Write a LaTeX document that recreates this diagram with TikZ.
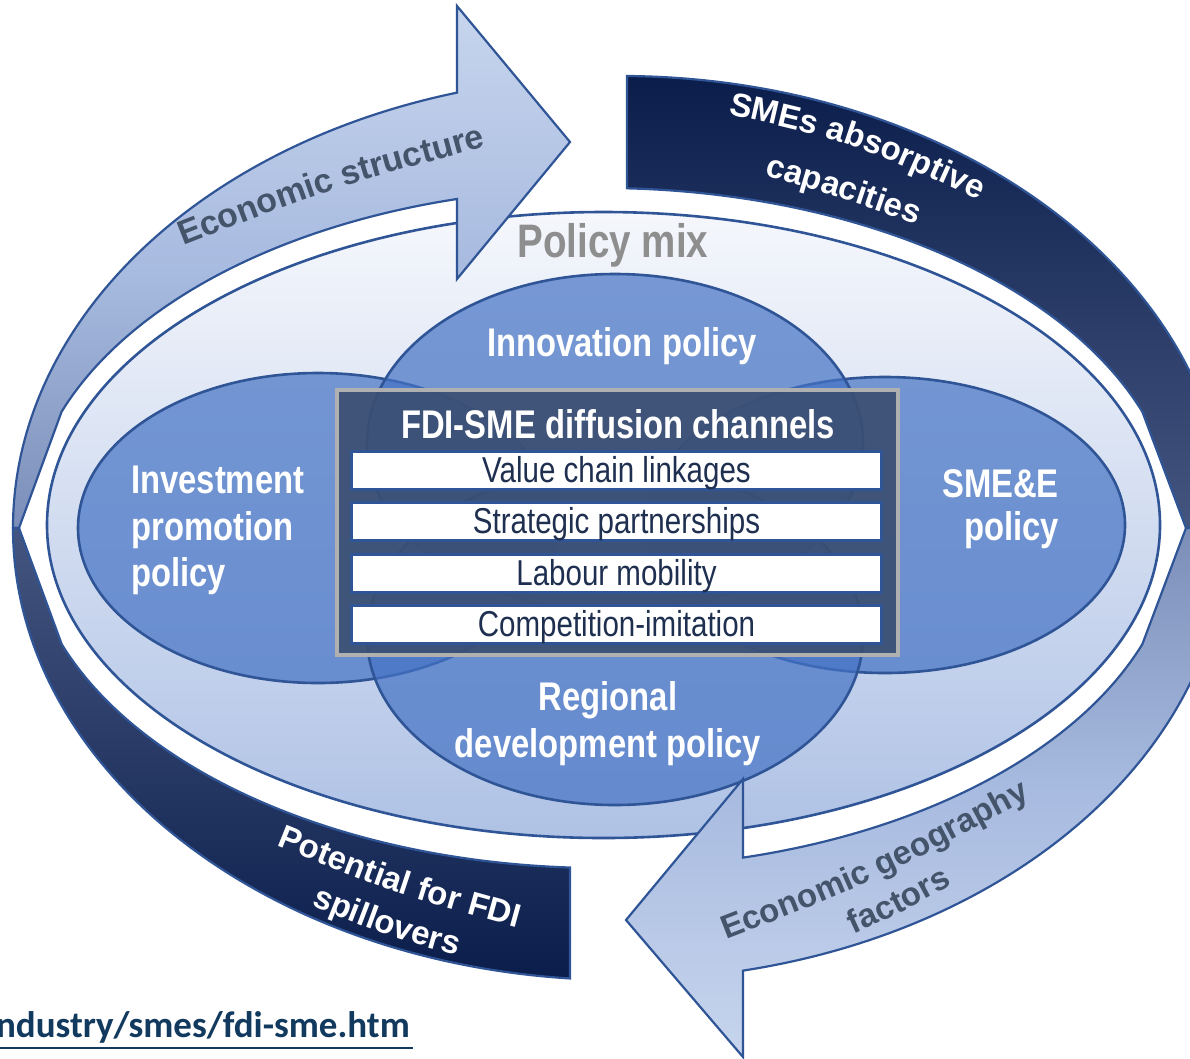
\documentclass[tikz,border=0pt]{standalone}
\usepackage{fontspec}
\setmainfont{Liberation Sans}
\newfontfamily\narrowfont[FakeStretch=0.82]{Liberation Sans}
\newfontfamily\urlfont{Carlito}
\usetikzlibrary{decorations.text}
\definecolor{bord}{HTML}{2F5597}
\definecolor{accent}{HTML}{4472C4}
\definecolor{slate}{HTML}{44546A}
\definecolor{boxfill}{HTML}{3B4E70}
\definecolor{boxedge}{HTML}{B0B0B0}
\definecolor{rowtext}{HTML}{1F2F50}
\definecolor{mixgray}{HTML}{8E8E8E}
\definecolor{urlcol}{HTML}{123A5E}
\definecolor{mixtop}{HTML}{F5F7FC}
\definecolor{mixbot}{HTML}{AFC2E5}
\definecolor{lighta}{HTML}{C7D5ED}
\definecolor{lightb}{HTML}{A8BBE0}
\definecolor{lightc}{HTML}{7B8EB8}
\definecolor{darka}{HTML}{0B1D4B}
\definecolor{darkb}{HTML}{44567F}
\begin{document}
\begin{tikzpicture}[x=1pt,y=-1pt,
  ringline/.style={draw=bord, line width=2.2pt, line join=miter},
  polell/.style={draw=bord, line width=2.6pt, fill=accent, fill opacity=0.7},
  elltext/.style={text=white, font=\narrowfont\bfseries\fontsize{40}{46}\selectfont, inner sep=0pt},
  rowbox/.style={draw=bord, line width=3pt, fill=white, minimum width=530pt, minimum height=38pt,
    inner sep=0pt, text height=28pt, text depth=4pt, text=rowtext,
    font=\narrowfont\fontsize{36}{40}\selectfont},
  arctext/.style={decorate, decoration={text along path, text align=center, text={#1}}}
]
\useasboundingbox (0,0) rectangle (1190,1058);
\clip (0,0) rectangle (1190,1058);

% policy mix ellipse
\draw[draw=bord, line width=2.6pt, top color=mixtop, bottom color=mixbot]
  (603.5,525) ellipse[x radius=556.5, y radius=313];
\node[inner sep=0pt, anchor=base, text=mixgray, font=\narrowfont\bfseries\fontsize{47}{52}\selectfont]
  (mix) at (613,257) {Policy mix};

% four policy ellipses
\draw[polell] (318,528) ellipse[x radius=240, y radius=155];
\draw[polell] (885,525) ellipse[x radius=240, y radius=148];
\draw[polell] (615,443) ellipse[x radius=248, y radius=169];
\draw[polell] (615,636) ellipse[x radius=248, y radius=169];

\node[elltext, anchor=base] (innov) at (622,356) {Innovation policy};
\node[elltext, anchor=base west] (inv1) at (131,493) {Investment};
\node[elltext, anchor=base west] (inv2) at (131,540) {promotion};
\node[elltext, anchor=base west] (inv3) at (131,586) {policy};
\node[elltext, anchor=base east] (sme1) at (1059,497) {SME\&E};
\node[elltext, anchor=base east] (sme2) at (1059,540) {policy};
\node[elltext, anchor=base] (reg1) at (608,710) {Regional};
\node[elltext, anchor=base] (reg2) at (608,757) {development policy};

% central box
\draw[draw=boxedge, line width=4pt, fill=boxfill, fill opacity=0.9] (337,390) rectangle (898,655);
\node[elltext, anchor=base] (chan) at (618,438) {FDI-SME diffusion channels};
\node[rowbox] (r1) at (616.5,470) {Value chain linkages};
\node[rowbox] (r2) at (616.5,521.5) {Strategic partnerships};
\node[rowbox] (r3) at (616.5,573) {Labour mobility};
\node[rowbox] (r4) at (616.5,624.5) {Competition-imitation};

% ring: top-left light arrow
\draw[ringline, top color=lighta, bottom color=lightc, middle color=lightb]
  (13,528) arc[start angle=180, end angle=254.42, x radius=607, y radius=452]
  -- (457,6) -- (570,142) -- (457,279) -- (457,199)
  arc[start angle=255.4, end angle=200, x radius=575, y radius=340]
  -- (19,528) -- cycle;
% ring: bottom-left dark band
\draw[ringline, top color=darkb, bottom color=darka]
  (13,528) arc[start angle=180, end angle=94.72, x radius=607, y radius=452]
  -- (570,867.5)
  arc[start angle=93.2, end angle=160, x radius=575, y radius=340]
  -- (19,528) -- cycle;
% ring: top-right dark band
\draw[ringline, top color=darka, bottom color=darkb]
  (627,76) arc[start angle=270.66, end angle=360, x radius=607, y radius=452]
  -- (1186,528) -- (1142.3,411.7)
  arc[start angle=340, end angle=272.5, x radius=575, y radius=340]
  -- cycle;
% ring: bottom-right light arrow
\draw[ringline, top color=lightc, bottom color=lighta, middle color=lightb]
  (1227,528) arc[start angle=0, end angle=78.31, x radius=607, y radius=452]
  -- (743,1057) -- (626,920) -- (743,779) -- (743,857.6)
  arc[start angle=75.8, end angle=20, x radius=575, y radius=340]
  -- (1186,528) -- cycle;

% curved labels
\path[arctext={|\bfseries\fontsize{34}{40}\selectfont\color{slate}|Economic structure}]
  (160,255) .. controls (332.3,187.5) .. (510,140);
\path[arctext={|\bfseries\fontsize{33}{40}\selectfont\color{white}|SMEs absorptive}]
  (700,108) .. controls (851.9,141.3) .. (1005,212);
\path[arctext={|\bfseries\fontsize{33}{40}\selectfont\color{white}|capacities}]
  (720,163) .. controls (840,196.8) .. (960,240);
\path[arctext={|\bfseries\fontsize{33}{40}\selectfont\color{white}|Potential for FDI}]
  (250,835) .. controls (396.8,894.3) .. (545,935);
\path[arctext={|\bfseries\fontsize{33}{40}\selectfont\color{white}|spillovers}]
  (270,888) .. controls (385,936.1) .. (500,967);
\path[arctext={|\bfseries\fontsize{33}{40}\selectfont\color{slate}|Economic geography}]
  (700,950) .. controls (870.1,884.1) .. (1055,785);
\path[arctext={|\bfseries\fontsize{33}{40}\selectfont\color{slate}|factors}]
  (830,945) .. controls (900.5,913.2) .. (975,872);

% source text
\node[inner sep=0pt, anchor=base east, text=urlcol, font=\urlfont\bfseries\fontsize{37}{42}\selectfont]
  (url) at (410,1037) {ndustry/smes/fdi-sme.htm};
\draw[urlcol, line width=2.5pt] ([yshift=-11pt]url.base west) -- ([yshift=-11pt,xshift=3pt]url.base east);
\end{tikzpicture}
\end{document}
